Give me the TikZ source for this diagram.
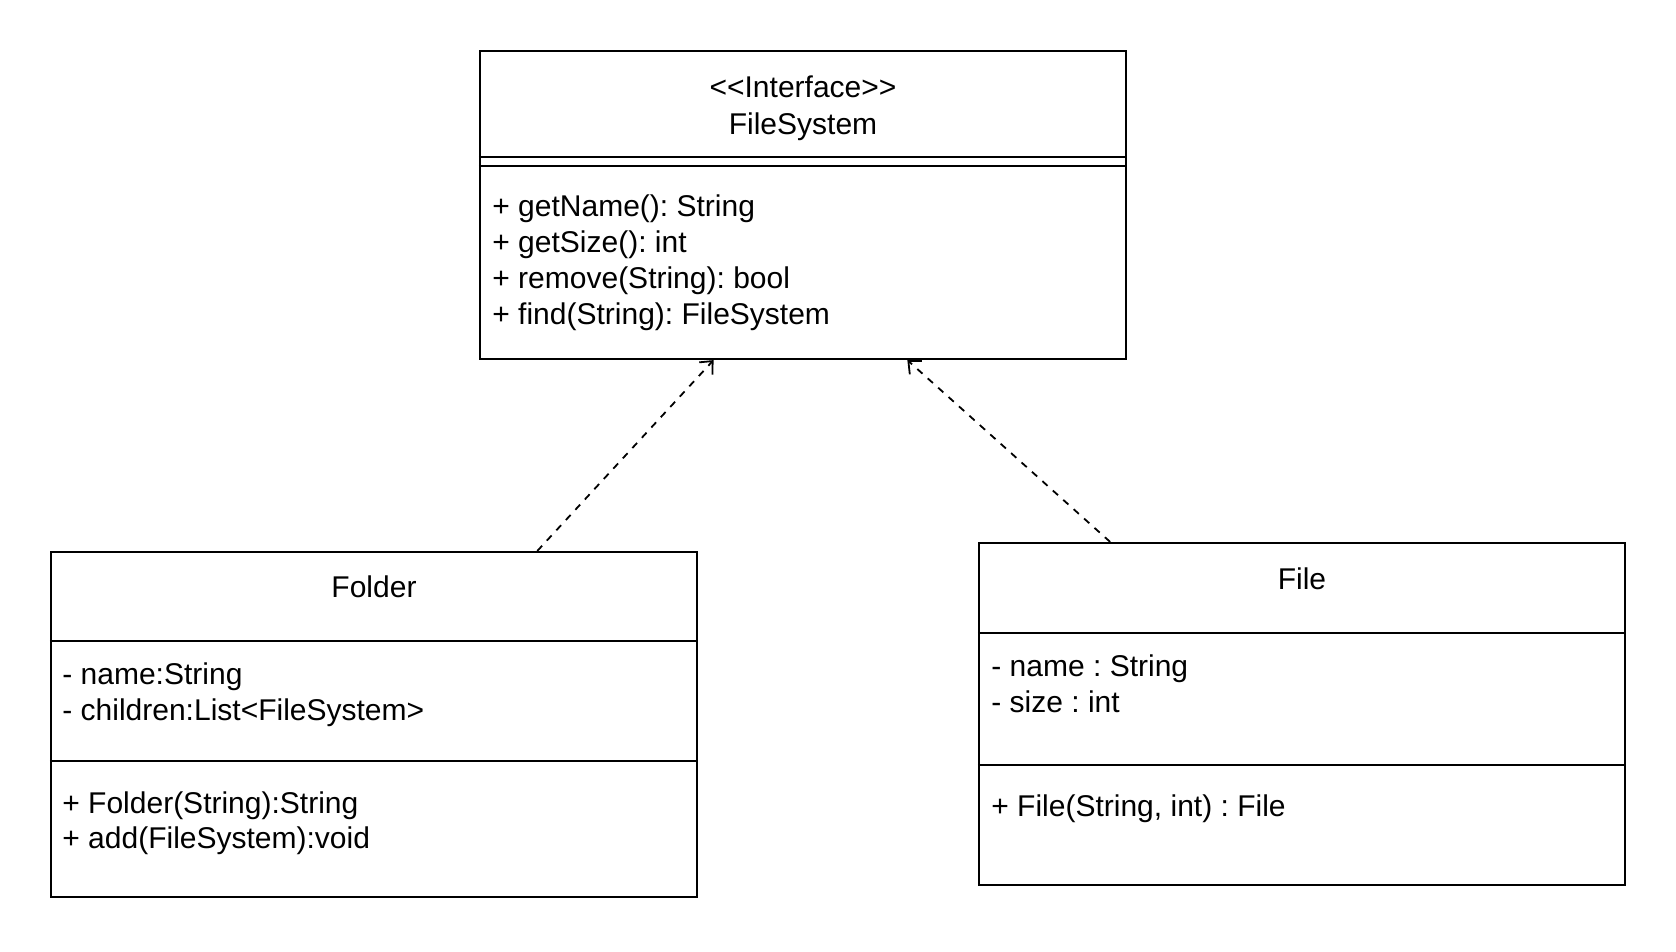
\documentclass[tikz,border=0pt]{standalone}
\usepackage{fontspec}
\setmainfont{Liberation Sans}[Ligatures=TeXOff]
\frenchspacing
\usetikzlibrary{arrows.meta,calc}
\tikzset{
  classbox/.style={draw=black,line width=1.1pt,fill=white,minimum width=323pt,inner sep=0pt},
  divider/.style={draw=black,line width=1.1pt},
  txt/.style={font=\fontsize{15pt}{18pt}\selectfont,inner sep=0pt,text height=11pt,text depth=3pt},
  realize/.style={draw=black,line width=0.9pt,dash pattern=on 3.5pt off 3.5pt,-{Straight Barb[length=5pt,width=9pt,line width=0.9pt]}}
}
\begin{document}
\begin{tikzpicture}[x=0.5pt,y=-0.5pt]
\useasboundingbox[fill=white] (0,0) rectangle (1676,952);
% boxes
\node[classbox,minimum height=154pt] (iface) at (803,205) {};
\node[classbox,minimum height=172.5pt] (folder) at (374,724.5) {};
\node[classbox,minimum height=171pt] (file) at (1302,714) {};
% dividers
\draw[divider] (iface.west |- 0,157) -- (iface.east |- 0,157);
\draw[divider] (iface.west |- 0,166) -- (iface.east |- 0,166);
\draw[divider] (folder.west |- 0,641) -- (folder.east |- 0,641);
\draw[divider] (folder.west |- 0,761) -- (folder.east |- 0,761);
\draw[divider] (file.west |- 0,633) -- (file.east |- 0,633);
\draw[divider] (file.west |- 0,765) -- (file.east |- 0,765);
% interface texts
\node[txt] (it1) at (803,90) {<<Interface>>};
\node[txt] (it2) at (803,127) {FileSystem};
\node[txt,anchor=west] (im1) at (492,209) {+ getName(): String};
\node[txt,anchor=west] (im2) at (492,245) {+ getSize(): int};
\node[txt,anchor=west] (im3) at (492,281) {+ remove(String): bool};
\node[txt,anchor=west] (im4) at (492,317) {+ find(String): FileSystem};
% folder texts
\node[txt] (ft) at (374,589) {Folder};
\node[txt,anchor=west] (fa1) at (62,676) {- name:String};
\node[txt,anchor=west] (fa2) at (62,712) {- children:List<FileSystem>};
\node[txt,anchor=west] (fm1) at (62,805) {+ Folder(String):String};
\node[txt,anchor=west] (fm2) at (62,840) {+ add(FileSystem):void};
% file texts
\node[txt] (flt) at (1302,581) {File};
\node[txt,anchor=west] (fla1) at (991,668) {- name : String};
\node[txt,anchor=west] (fla2) at (991,704) {- size : int};
\node[txt,anchor=west] (flm1) at (991,808) {+ File(String, int) : File};
% connectors
\coordinate (fsrc) at ($(folder.north west)!0.752!(folder.north east)$);
\coordinate (fdst) at ($(iface.south west)!0.362!(iface.south east)$);
\coordinate (lsrc) at ($(file.north west)!0.204!(file.north east)$);
\coordinate (ldst) at ($(iface.south west)!0.661!(iface.south east)$);
\draw[realize] (fsrc) -- (fdst);
\draw[realize] (lsrc) -- (ldst);
\end{tikzpicture}
\end{document}
